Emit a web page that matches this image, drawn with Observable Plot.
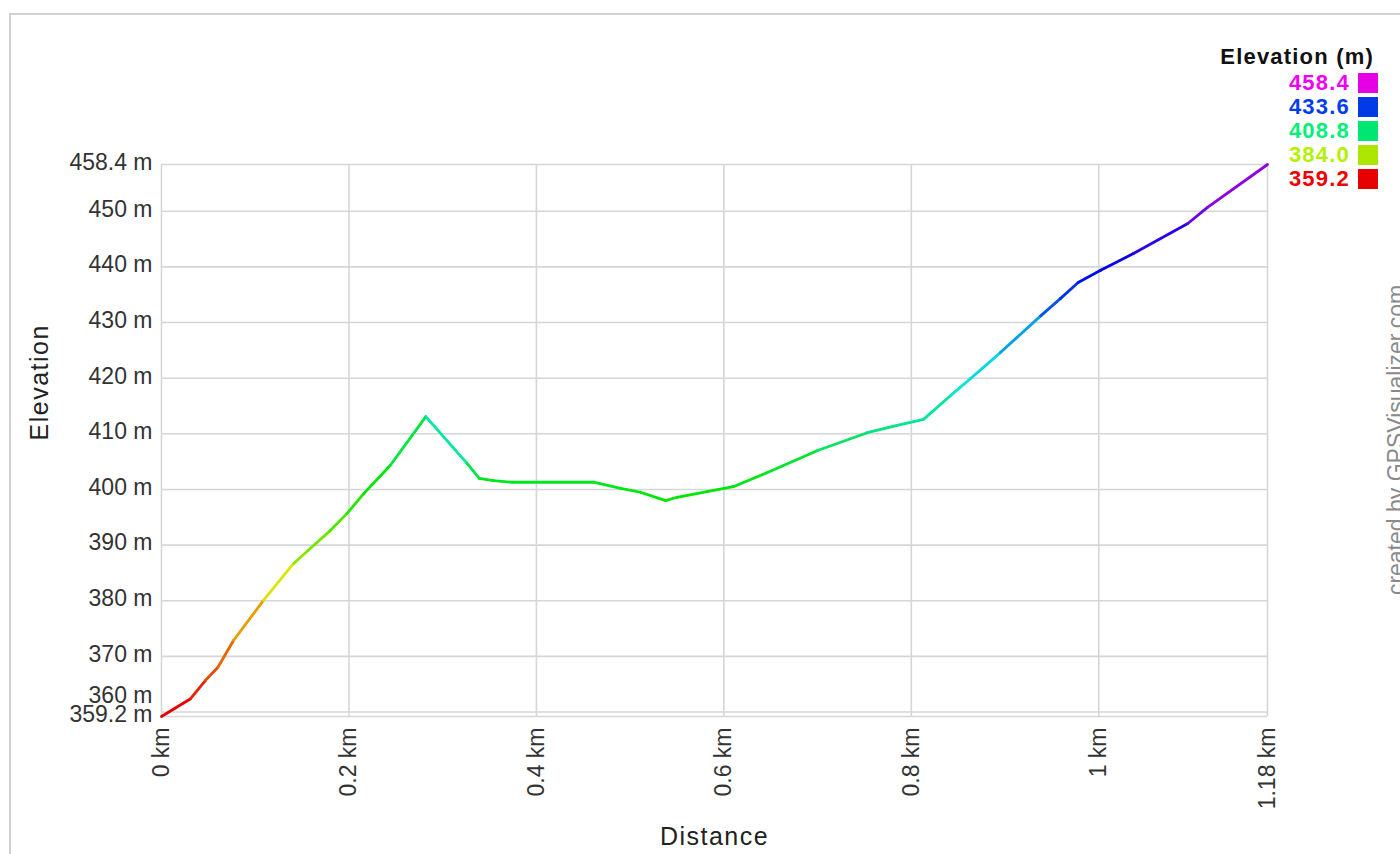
<!DOCTYPE html>
<html>
<head>
<meta charset="utf-8">
<script src="https://cdn.jsdelivr.net/npm/d3@7"></script>
<script src="https://cdn.jsdelivr.net/npm/@observablehq/plot@0.6"></script>
<style>
  html, body { margin: 0; padding: 0; background: #fff; width: 1400px; height: 854px; overflow: hidden; }
  body { position: relative; font-family: "Liberation Sans", Arial, sans-serif; }
  #frame { position: absolute; left: 9px; top: 13px; width: 1500px; height: 1000px; border-top: 2px solid #d0d0d0; border-left: 2px solid #d0d0d0; }
  #chart { position: absolute; left: 0; top: 0; }
  #legend { position: absolute; right: 22px; top: 43px; text-align: right; }
  #legend .title { font-weight: bold; font-size: 22px; letter-spacing: 1.2px; color: #111; line-height: 27px; margin-bottom: 1px; margin-right: 4px; }
  #legend .row { display: flex; justify-content: flex-end; align-items: center; height: 24px; }
  #legend .val { font-weight: bold; font-size: 22px; letter-spacing: 1.2px; margin-right: 8px; }
  #legend .sw { width: 20px; height: 20px; }
  #credit { position: absolute; left: 1396px; top: 440px; transform: translate(-50%, -50%) rotate(-90deg); white-space: nowrap; font-size: 23px; color: #8a8a8a; }
</style>
</head>
<body>
<div id="frame"></div>
<div id="chart"></div>
<div id="legend"></div>
<div id="credit">created by GPSVisualizer.com</div>
<script>
// Distance along the track (km)
const distanceKm = [0, 0.031, 0.047, 0.060, 0.077, 0.109, 0.141, 0.156, 0.180, 0.198, 0.216, 0.244, 0.282,
  0.326, 0.339, 0.354, 0.374, 0.461, 0.490, 0.511, 0.538, 0.550, 0.582, 0.610, 0.646, 0.700, 0.753, 0.785,
  0.813, 0.842, 0.863, 0.895, 0.938, 0.959, 0.978, 1.002, 1.037, 1.095, 1.116, 1.18];
// Elevation (m)
const elevationM = [359.2, 362.4, 365.7, 368.0, 372.9, 380.1, 386.7, 389.0, 392.6, 395.7, 399.3, 404.3, 413.1,
  404.7, 402.0, 401.6, 401.3, 401.3, 400.2, 399.5, 398.0, 398.6, 399.6, 400.5, 403.0, 407.0, 410.2, 411.5,
  412.6, 416.9, 419.9, 424.6, 431.2, 434.3, 437.2, 439.4, 442.4, 447.8, 450.7, 458.4];
// Axis ticks
const xTicks = [0, 0.2, 0.4, 0.6, 0.8, 1, 1.18];
const yTicks = [359.2, 360, 370, 380, 390, 400, 410, 420, 430, 440, 450, 458.4];
const yTicksMain = [359.2, 370, 380, 390, 400, 410, 420, 430, 440, 450, 458.4];
const yTicksNudged = [360];
// Legend values
const legendValues = [458.4, 433.6, 408.8, 384.0, 359.2];
const elevMin = 359.2, elevMax = 458.4;

const points = distanceKm.map((d, i) => ({d, e: elevationM[i]}));
const segments = d3.pairs(points).map(([a, b]) => ({x1: a.d, y1: a.e, x2: b.d, y2: b.e, c: a.e}));

const grid = {stroke: "#d6d6d6", strokeOpacity: 1, strokeWidth: 1.6};
const tickFont = {fontSize: 23, fill: "#333"};

const plot = Plot.plot({
  width: 1400,
  height: 854,
  marginLeft: 161,
  marginRight: 133,
  marginTop: 164,
  marginBottom: 138,
  style: {fontFamily: "'Liberation Sans', Arial, sans-serif", background: "transparent", overflow: "visible"},
  x: {domain: [0, 1.18]},
  y: {domain: [elevMin, elevMax]},
  color: {type: "linear", domain: [elevMin, elevMax], interpolate: t => d3.hsl(300 * t, 1, 0.45).formatHex()},
  marks: [
    Plot.gridX(xTicks, grid),
    Plot.gridY(yTicks, grid),
    Plot.axisY(yTicksMain, {tickFormat: d => `${d} m`, tickSize: 0, tickPadding: 9, dy: -2, label: null, ...tickFont}),
    Plot.axisY(yTicksNudged, {tickFormat: d => `${d} m`, tickSize: 0, tickPadding: 9, dy: -16, label: null, ...tickFont}),
    Plot.axisX(xTicks, {tickFormat: d => `${d} km`, tickSize: 0, tickPadding: 11, tickRotate: -90, label: null, ...tickFont}),
    Plot.text(["Elevation"], {frameAnchor: "left", dx: -122, rotate: -90, fontSize: 25, fill: "#222", text: d => d}),
    Plot.text(["Distance"], {frameAnchor: "bottom", dy: 128, fontSize: 25, fill: "#222", text: d => d}),
    Plot.link(segments, {x1: "x1", y1: "y1", x2: "x2", y2: "y2", stroke: "c", strokeWidth: 2.8, strokeLinecap: "round"})
  ]
});
plot.querySelectorAll("text").forEach(t => { if (t.textContent === "Elevation" || t.textContent === "Distance") t.style.letterSpacing = "1.5px"; });
document.getElementById("chart").appendChild(plot);

const color = plot.scale("color");
const legend = document.getElementById("legend");
const title = document.createElement("div");
title.className = "title";
title.textContent = "Elevation (m)";
legend.appendChild(title);
legendValues.forEach(v => {
  const c = d3.hsl(300 * (v - elevMin) / (elevMax - elevMin), 1, 0.47).formatHex();
  const row = document.createElement("div");
  row.className = "row";
  const val = document.createElement("span");
  val.className = "val";
  val.textContent = v.toFixed(1);
  val.style.color = c;
  const sw = document.createElement("span");
  sw.className = "sw";
  sw.style.background = color.apply(v);
  row.appendChild(val);
  row.appendChild(sw);
  legend.appendChild(row);
});
</script>
</body>
</html>
